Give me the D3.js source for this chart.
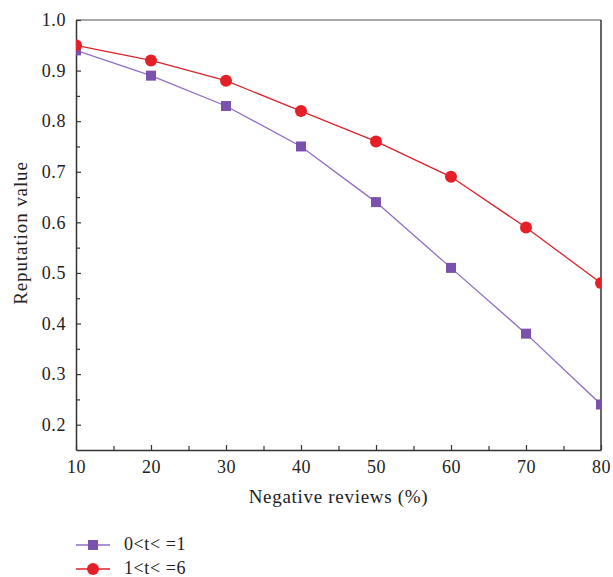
<!DOCTYPE html>
<html><head><meta charset="utf-8">
<script src="https://cdn.jsdelivr.net/npm/d3@7"></script>
<style>body{margin:0;background:#fff}text{font-family:"Liberation Serif","DejaVu Serif",serif;fill:#222}</style>
</head><body><svg id="c" width="613" height="577"></svg>
<script>
const xValues = [10, 20, 30, 40, 50, 60, 70, 80];
const seriesA = [0.94, 0.89, 0.83, 0.75, 0.64, 0.51, 0.38, 0.24];
const seriesB = [0.95, 0.92, 0.88, 0.82, 0.76, 0.69, 0.59, 0.48];
const seriesNames = ["0<t< =1", "1<t< =6"];
const xTicks = [10, 20, 30, 40, 50, 60, 70, 80];
const yTicks = [0.2, 0.3, 0.4, 0.5, 0.6, 0.7, 0.8, 0.9, 1.0];

const svg = d3.select("#c");
const L = 76, R = 601, T = 20, B = 450;
const x = d3.scaleLinear().domain([10, 80]).range([L, R]);
const y = d3.scaleLinear().domain([0.15, 1.0]).range([B, T]);
const axisCol = "#333";

// frame top/right
svg.append("line").attr("x1", L).attr("x2", R).attr("y1", T).attr("y2", T).attr("stroke", "#555").attr("stroke-width", 1.2);
svg.append("line").attr("x1", R).attr("x2", R).attr("y1", T).attr("y2", B).attr("stroke", axisCol).attr("stroke-width", 1.5);

const xMinor = d3.range(15, 80, 10);
const yMinor = d3.range(0.25, 1.0, 0.1);
svg.append("g").attr("transform", `translate(0,${B})`)
  .call(d3.axisBottom(x).tickValues(xTicks).tickSizeInner(-5).tickSizeOuter(0).tickPadding(10).tickFormat(d3.format("d")));
svg.append("g").attr("transform", `translate(0,${B})`)
  .call(d3.axisBottom(x).tickValues(xMinor).tickSizeInner(-4).tickSizeOuter(0).tickFormat(""))
  .call(g => g.select(".domain").remove());
svg.append("g").attr("transform", `translate(${L},0)`)
  .call(d3.axisLeft(y).tickValues(yTicks).tickSizeInner(-5).tickSizeOuter(0).tickPadding(10).tickFormat(d3.format(".1f")));
svg.append("g").attr("transform", `translate(${L},0)`)
  .call(d3.axisLeft(y).tickValues(yMinor).tickSizeInner(-4).tickSizeOuter(0).tickFormat(""))
  .call(g => g.select(".domain").remove());
svg.selectAll(".domain").attr("stroke", axisCol).attr("stroke-width", 1.5);
svg.selectAll(".tick line").attr("stroke", axisCol).attr("stroke-width", 1.2);
svg.selectAll(".tick text").style("font-size", "18px").style("letter-spacing", "0.6px")
  .style("font-family", '"Liberation Serif",serif').attr("fill", "#222");

// axis titles
svg.append("text").attr("x", (L + R) / 2).attr("y", 503).attr("text-anchor", "middle")
  .style("font-size", "19px").style("letter-spacing", "0.7px").text("Negative reviews (%)");
svg.append("text").attr("transform", `translate(27,233) rotate(-90)`).attr("text-anchor", "middle")
  .style("font-size", "19px").style("letter-spacing", "0.9px").text("Reputation value");

// clip
svg.append("defs").append("clipPath").attr("id", "clip").append("rect").attr("x", L).attr("y", T).attr("width", R - L).attr("height", B - T);
const plot = svg.append("g").attr("clip-path", "url(#clip)");

const colA = "#7a52ad", lineA = "#8e6cc6", colB = "#e51f28", lineB = "#d8232b";
const line = d3.line().x((d, i) => x(xValues[i])).y(d => y(d));
plot.append("path").datum(seriesA).attr("d", line).attr("fill", "none").attr("stroke", lineA).attr("stroke-width", 1.3);
plot.append("path").datum(seriesB).attr("d", line).attr("fill", "none").attr("stroke", lineB).attr("stroke-width", 1.3);
plot.selectAll(".sq").data(seriesA).enter().append("rect")
  .attr("x", (d, i) => x(xValues[i]) - 5).attr("y", d => y(d) - 5).attr("width", 10).attr("height", 10).attr("fill", colA);
plot.selectAll(".ci").data(seriesB).enter().append("circle")
  .attr("cx", (d, i) => x(xValues[i])).attr("cy", d => y(d)).attr("r", 6).attr("fill", colB);

// legend
const lg = svg.append("g");
[[545, lineA, colA, "sq"], [569, lineB, colB, "ci"]].forEach((r, i) => {
  lg.append("line").attr("x1", 76).attr("x2", 110).attr("y1", r[0]).attr("y2", r[0]).attr("stroke", r[1]).attr("stroke-width", 1.3);
  if (r[3] === "sq") lg.append("rect").attr("x", 88).attr("y", r[0] - 5).attr("width", 10).attr("height", 10).attr("fill", r[2]);
  else lg.append("circle").attr("cx", 93).attr("cy", r[0]).attr("r", 6).attr("fill", r[2]);
  lg.append("text").attr("x", 124).attr("y", r[0] + 5).style("font-size", "18px").style("letter-spacing", "0.6px").text(seriesNames[i]);
});
</script></body></html>
